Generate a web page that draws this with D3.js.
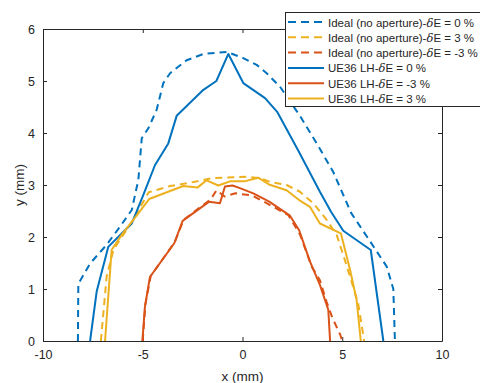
<!DOCTYPE html>
<html><head><meta charset="utf-8">
<script src="https://cdn.jsdelivr.net/npm/d3@7"></script>
<style>body{margin:0;background:#fff}svg{display:block}text{font-family:"Liberation Sans",Arial,Helvetica,sans-serif;fill:#262626}</style>
</head><body><svg id="c" width="480" height="383"></svg>
<script>
const xTicks = [-10, -5, 0, 5, 10];
const yTicks = [0, 1, 2, 3, 4, 5, 6];
const seriesNames = ["Ideal (no aperture)-", "Ideal (no aperture)-", "Ideal (no aperture)-", "UE36 LH-", "UE36 LH-", "UE36 LH-"];
const seriesSuffix = ["E = 0 %", "E = 3 %", "E = -3 %", "E = 0 %", "E = -3 %", "E = 3 %"];
const idealE0 = [[-8.25,0],[-8.23,1.1],[-7.64,1.49],[-6.81,1.85],[-6.14,2.2],[-5.55,2.52],[-5.22,3.1],[-5.05,3.9],[-4.72,4.09],[-4.3,4.45],[-3.97,4.96],[-3.63,5.15],[-2.8,5.4],[-1.96,5.52],[-0.79,5.56],[0.04,5.44],[0.71,5.31],[1.21,5.15],[1.88,4.89],[2.88,4.33],[3.72,3.8],[4.55,3.25],[5.45,2.46],[6.39,1.92],[7.23,1.43],[7.56,1.0],[7.64,0]];
const idealEp3 = [[-7.1,0],[-6.81,1.24],[-6.47,1.75],[-6.06,2.0],[-5.64,2.23],[-4.7,2.86],[-3.63,2.98],[-2.55,3.05],[-1.55,3.13],[-0.46,3.15],[0.21,3.16],[0.88,3.13],[1.38,3.06],[2.21,3.0],[2.88,2.87],[3.55,2.65],[4.22,2.33],[4.72,2.04],[4.97,1.75],[5.39,1.24],[5.8,0.72],[6.1,0]];
const idealEm3 = [[-5.0,0],[-4.87,0.7],[-4.6,1.25],[-3.4,1.9],[-2.95,2.33],[-2.2,2.55],[-1.6,2.72],[-1.3,2.9],[-0.9,2.78],[-0.35,2.84],[0.46,2.8],[1.21,2.65],[2.3,2.42],[2.88,2.05],[3.47,1.43],[3.88,1.17],[4.22,0.75],[4.5,0.45],[4.9,0.12],[5.0,0]];
const ue36E0 = [[-7.64,0],[-7.31,0.95],[-6.73,1.81],[-5.55,2.26],[-4.97,2.81],[-4.39,3.38],[-3.72,3.8],[-3.3,4.33],[-1.96,4.83],[-1.31,5.0],[-0.71,5.52],[0.04,4.96],[1.13,4.67],[1.75,4.4],[2.8,3.66],[3.88,2.87],[4.43,2.49],[5.05,2.12],[6.43,1.75],[7.06,0]];
const ue36Em3 = [[-5.02,0],[-4.89,0.66],[-4.64,1.23],[-3.42,1.88],[-3.0,2.31],[-1.67,2.68],[-1.13,2.65],[-0.88,2.97],[-0.5,2.99],[-0.13,2.94],[0.54,2.84],[1.34,2.68],[2.38,2.41],[2.84,2.13],[3.38,1.53],[3.88,1.08],[4.3,0.6],[4.39,0]];
const ue36Ep3 = [[-6.89,0],[-6.56,1.75],[-6.06,2.04],[-5.55,2.29],[-4.68,2.73],[-2.97,2.98],[-2.26,2.95],[-1.8,3.09],[-1.21,2.99],[-0.63,3.07],[0.1,3.07],[0.79,3.14],[1.33,3.01],[2.21,2.9],[2.84,2.71],[3.38,2.58],[3.88,2.26],[4.93,2.07],[5.39,1.37],[5.72,0.79],[5.93,0]];
const seriesData = [idealE0, idealEp3, idealEm3, ue36E0, ue36Em3, ue36Ep3];
const seriesColors = ["#0072BD", "#EDB120", "#D95319", "#0072BD", "#D95319", "#EDB120"];
const seriesDashed = [true, true, true, false, false, false];

const svg = d3.select("#c");
const L = 43, R = 442, T = 29, B = 341;
const x = d3.scaleLinear().domain([-10, 10]).range([L, R]);
const y = d3.scaleLinear().domain([0, 6]).range([B, T]);
const fmt = d => String(d);

const axCol = "#262626";
const gx = svg.append("g").attr("transform", `translate(0,${B})`)
  .call(d3.axisBottom(x).tickValues(xTicks).tickSizeInner(-4).tickSizeOuter(0).tickPadding(9).tickFormat(fmt));
const gy = svg.append("g").attr("transform", `translate(${L},0)`)
  .call(d3.axisLeft(y).tickValues(yTicks).tickSizeInner(-4).tickSizeOuter(0).tickPadding(8).tickFormat(fmt));
const gxt = svg.append("g").attr("transform", `translate(0,${T})`)
  .call(d3.axisTop(x).tickValues(xTicks).tickSizeInner(-4).tickSizeOuter(0).tickFormat(""));
const gyr = svg.append("g").attr("transform", `translate(${R},0)`)
  .call(d3.axisRight(y).tickValues(yTicks).tickSizeInner(-4).tickSizeOuter(0).tickFormat(""));
[gx, gy, gxt, gyr].forEach(g => {
  g.selectAll("path").attr("stroke", axCol).attr("stroke-width", 1);
  g.selectAll("line").attr("stroke", axCol).attr("stroke-width", 1);
  g.selectAll("text").attr("fill", axCol).style("font-size", "12.5px").style("font-family", '"Liberation Sans",Arial,sans-serif');
});

const line = d3.line().x(d => x(d[0])).y(d => y(d[1]));
seriesData.forEach((data, i) => {
  svg.append("path").datum(data).attr("d", line).attr("fill", "none")
    .attr("stroke", seriesColors[i]).attr("stroke-width", 2)
    .attr("stroke-linejoin", "round")
    .attr("stroke-dasharray", seriesDashed[i] ? "7,5" : null);
});

svg.append("text").attr("x", (L + R) / 2).attr("y", 381).attr("text-anchor", "middle")
  .style("font-size", "13.5px").text("x (mm)");
svg.append("text").attr("transform", `translate(24,${(T + B) / 2}) rotate(-90)`).attr("text-anchor", "middle")
  .style("font-size", "13.5px").text("y (mm)");

const lg = svg.append("g");
lg.append("rect").attr("x", 285.5).attr("y", 12.5).attr("width", 200).attr("height", 94)
  .attr("fill", "#fff").attr("stroke", axCol).attr("stroke-width", 1);
seriesData.forEach((d, i) => {
  const yy = 22 + i * 15.3;
  lg.append("line").attr("x1", 288).attr("x2", 324).attr("y1", yy).attr("y2", yy)
    .attr("stroke", seriesColors[i]).attr("stroke-width", 2)
    .attr("stroke-dasharray", seriesDashed[i] ? "8,5" : null);
  const t = lg.append("text").attr("x", 328).attr("y", yy + 4.5).style("font-size", "11.5px");
  t.append("tspan").text(seriesNames[i]);
  t.append("tspan").style("font-style", "italic").style("font-family", '"DejaVu Serif","Liberation Serif",serif').text("δ");
  t.append("tspan").text(seriesSuffix[i]);
});
</script></body></html>
